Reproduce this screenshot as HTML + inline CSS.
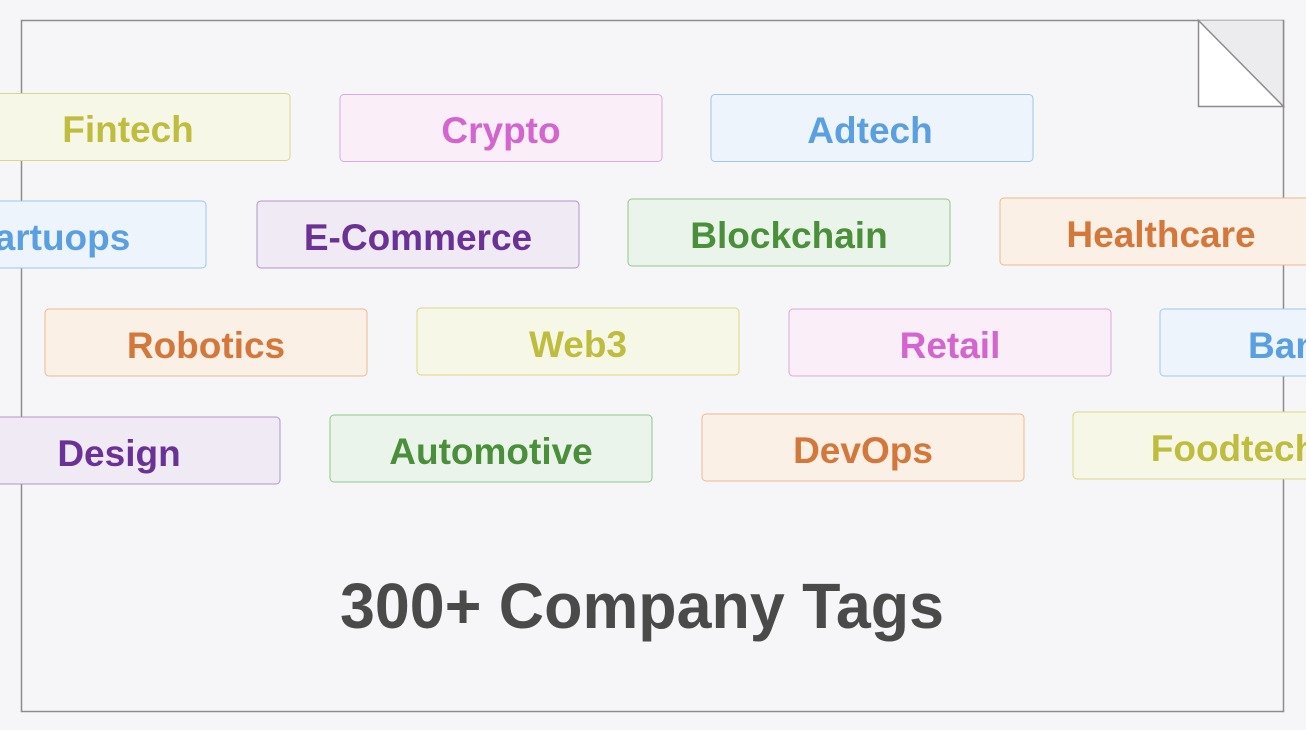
<!DOCTYPE html>
<html><head><meta charset="utf-8"><style>
html,body{margin:0;padding:0;background:#f6f6f8;width:1306px;height:730px;overflow:hidden}
</style></head><body>
<svg width="1306" height="730" xmlns="http://www.w3.org/2000/svg" font-family="Liberation Sans, sans-serif" font-weight="bold">
<rect x="0" y="0" width="1306" height="730" fill="#f6f6f8"/>
<rect x="21.5" y="20.5" width="1262" height="691" fill="#f6f6f8" stroke="#8e8a8e" stroke-width="1.5"/>
<g text-anchor="middle" font-size="37">
<rect x="-33" y="93.5" width="323" height="67" rx="4" fill="#f7f7e8" stroke="#ddd588"/>
<text x="128" y="142" fill="#bfbd3e">Fintech</text>
<rect x="340" y="94.5" width="322" height="67" rx="4" fill="#faeef8" stroke="#dfa8dd"/>
<text x="501" y="143" fill="#d465cf">Crypto</text>
<rect x="711" y="94.5" width="322" height="67" rx="4" fill="#edf4fc" stroke="#9fc7ee"/>
<text x="870" y="143" fill="#5aa0e0">Adtech</text>
<rect x="-117" y="201" width="323" height="67" rx="4" fill="#edf4fc" stroke="#9fc7ee"/>
<text x="44" y="250" fill="#5aa0e0">Startuops</text>
<rect x="257" y="201" width="322" height="67" rx="4" fill="#f0eaf5" stroke="#b294cb"/>
<text x="418" y="250" fill="#6a3296">E-Commerce</text>
<rect x="628" y="199" width="322" height="67" rx="4" fill="#ebf4ea" stroke="#94c68c"/>
<text x="789" y="248" fill="#4a8f3a">Blockchain</text>
<rect x="1000" y="198" width="322" height="67" rx="4" fill="#faf0e6" stroke="#e9bb90"/>
<text x="1161" y="247" fill="#d4773a">Healthcare</text>
<rect x="45" y="309" width="322" height="67" rx="4" fill="#faf0e6" stroke="#e9bb90"/>
<text x="206" y="358" fill="#d4773a">Robotics</text>
<rect x="417" y="308" width="322" height="67" rx="4" fill="#f7f7e8" stroke="#ddd588"/>
<text x="578" y="357" fill="#bfbd3e">Web3</text>
<rect x="789" y="309" width="322" height="67" rx="4" fill="#faeef8" stroke="#dfa8dd"/>
<text x="950" y="358" fill="#d465cf">Retail</text>
<rect x="1160" y="309" width="322" height="67" rx="4" fill="#edf4fc" stroke="#9fc7ee"/>
<text x="1321" y="358" fill="#5aa0e0">Banking</text>
<rect x="-42" y="417" width="322" height="67" rx="4" fill="#f0eaf5" stroke="#b294cb"/>
<text x="119" y="466" fill="#6a3296">Design</text>
<rect x="330" y="415" width="322" height="67" rx="4" fill="#ebf4ea" stroke="#94c68c"/>
<text x="491" y="464" fill="#4a8f3a">Automotive</text>
<rect x="702" y="414" width="322" height="67" rx="4" fill="#faf0e6" stroke="#e9bb90"/>
<text x="863" y="463" fill="#d4773a">DevOps</text>
<rect x="1073" y="412" width="322" height="67" rx="4" fill="#f7f7e8" stroke="#ddd588"/>
<text x="1234" y="461" fill="#bfbd3e">Foodtech</text>
</g>
<polygon points="1198.5,20.5 1283.5,20.5 1283.5,106.5" fill="#ecebee"/>
<polygon points="1198.5,20.5 1283.5,106.5 1198.5,106.5" fill="#ffffff" stroke="#8e8a8e" stroke-width="1.5"/>
<line x1="1283.5" y1="20" x2="1283.5" y2="107" stroke="#8e8a8e" stroke-width="1.5"/>
<text x="642" y="628" text-anchor="middle" font-size="64" fill="#4a4a4a" textLength="604" lengthAdjust="spacingAndGlyphs">300+ Company Tags</text>
</svg>
</body></html>
